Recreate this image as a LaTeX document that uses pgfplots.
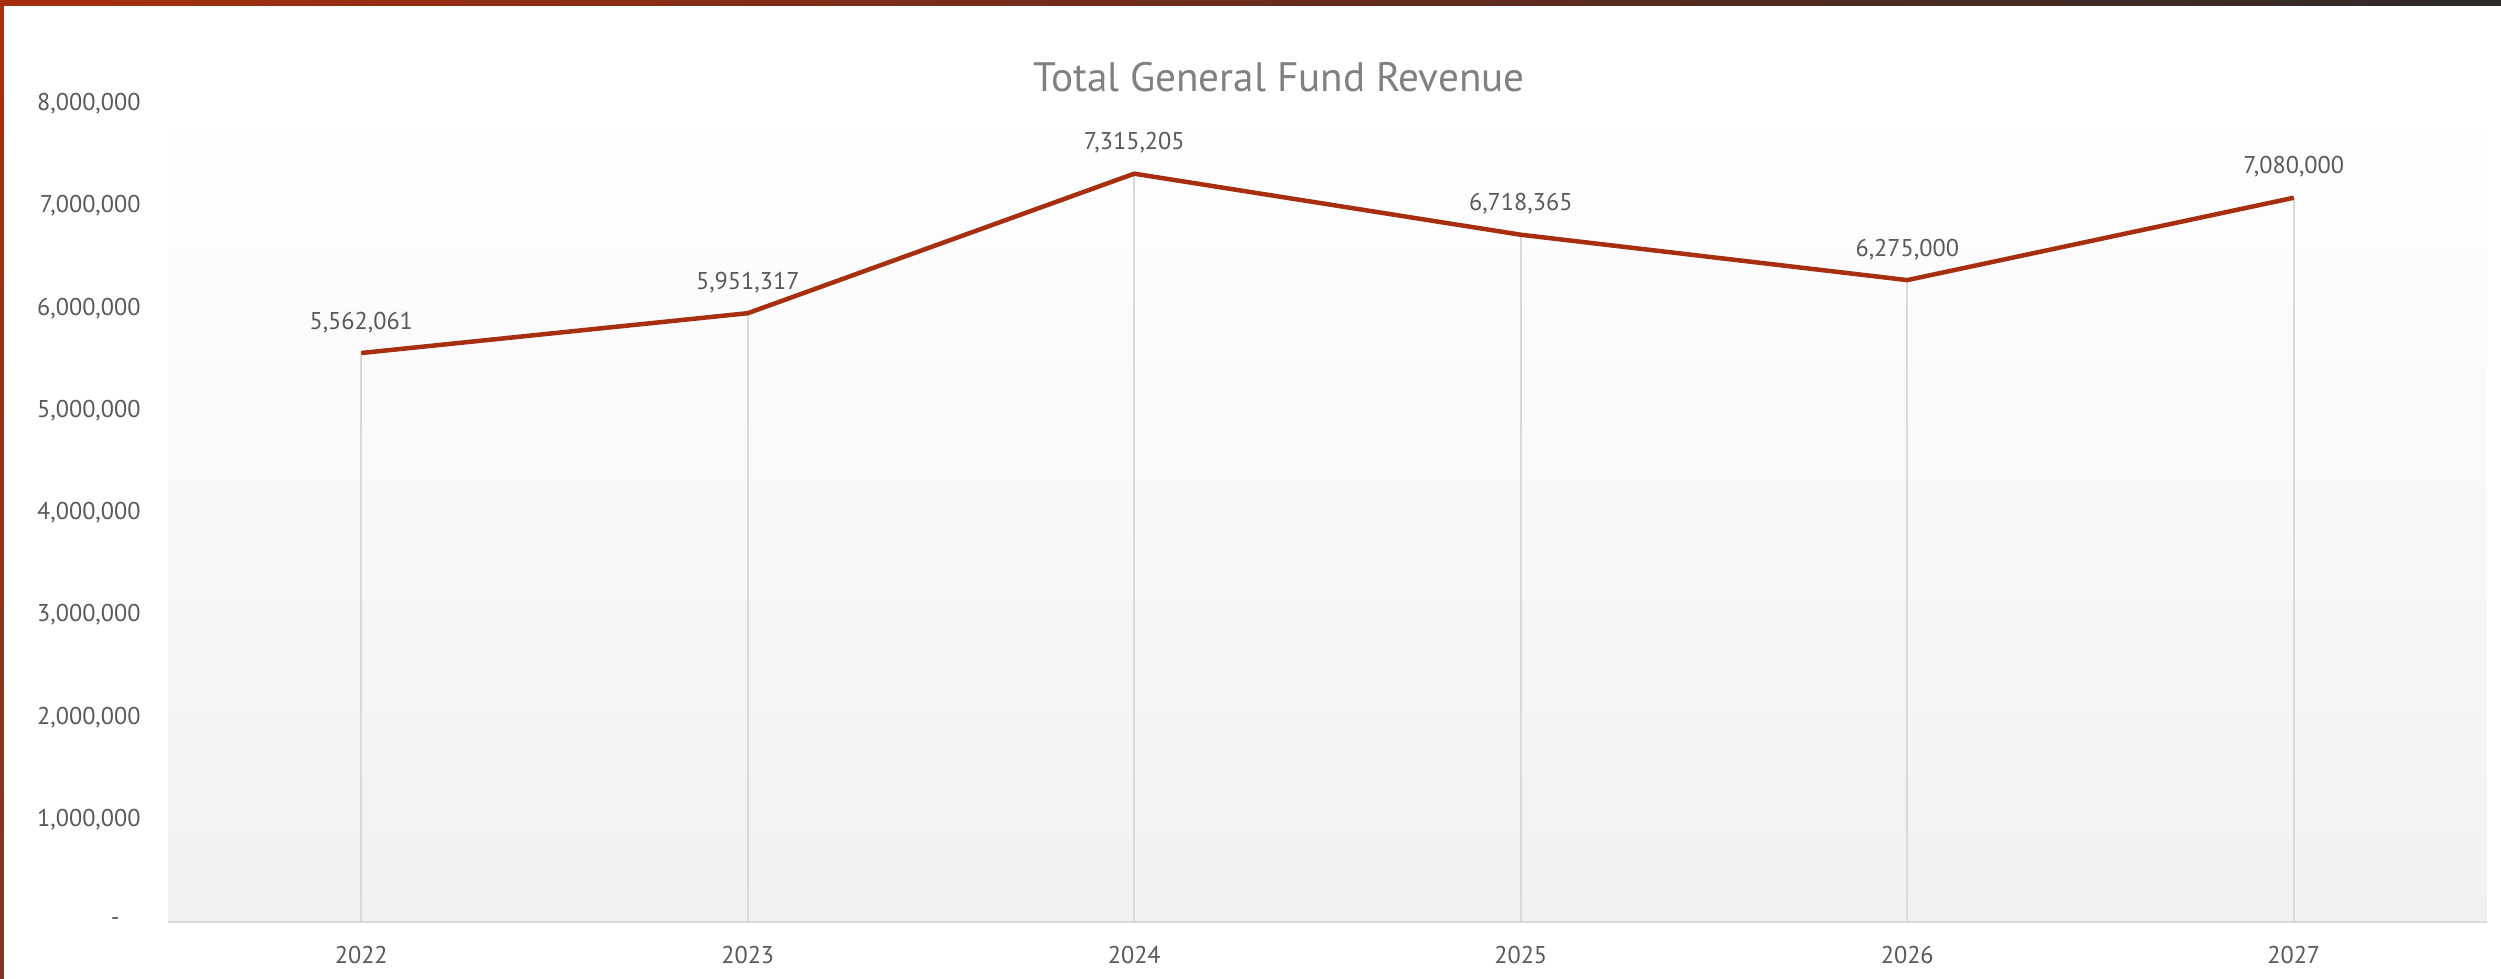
\documentclass[border=0pt]{standalone}
\usepackage{pgfplots}
\usepackage{pgfplotstable}
\pgfplotsset{compat=1.18}
\usepackage{fontspec}
\setmainfont{PT Sans}
\definecolor{linered}{RGB}{168,46,16}
\definecolor{ticktext}{RGB}{89,89,89}
\definecolor{titlegray}{RGB}{128,128,128}
\definecolor{gridgray}{RGB}{217,217,217}
\definecolor{bottomgray}{RGB}{241,241,241}
\definecolor{borderdark}{RGB}{45,42,40}
\definecolor{borderbrown}{RGB}{122,56,36}

\pgfplotstableread{
x y label
0 5562061 5,562,061
1 5951317 5,951,317
2 7315205 7,315,205
3 6718365 6,718,365
4 6275000 6,275,000
5 7080000 7,080,000
}\revdata

\begin{document}
\begin{tikzpicture}
\fill[white] (0,0) rectangle (250.1mm,97.8mm);
\shade[left color=linered, right color=borderdark] (0,97.2mm) rectangle (250.1mm,97.8mm);
\shade[top color=linered, bottom color=borderbrown] (0,0) rectangle (0.4mm,97.8mm);
\begin{axis}[
  at={(16.8mm,5.6mm)}, anchor=south west,
  scale only axis, width=231.9mm, height=81.84mm,
  xmin=-0.5, xmax=5.5, ymin=0, ymax=8000000,
  axis x line*=bottom, axis y line*=left,
  x axis line style={gridgray, line width=0.2mm, -},
  y axis line style={draw=none},
  major tick length=0pt,
  xtick={0,1,2,3,4,5},
  xticklabels={2022,2023,2024,2025,2026,2027},
  ytick={0,1000000,2000000,3000000,4000000,5000000,6000000,7000000,8000000},
  yticklabels={{-\rule{2.1mm}{0pt}},{1,000,000},{2,000,000},{3,000,000},{4,000,000},{5,000,000},{6,000,000},{7,000,000},{8,000,000}},
  scaled y ticks=false,
  ticklabel style={font=\fontsize{6.9}{8}\selectfont, color=ticktext},
  yticklabel style={xshift=-1.5mm},
  xticklabel style={yshift=-1.2mm},
  axis background/.style={shade, top color=white, bottom color=bottomgray},
  clip=false,
]
\addplot[ycomb, gridgray, line width=0.2mm, mark=none] table[x=x,y=y]{\revdata};
\addplot[linered, line width=0.45mm, line join=round, mark=none,
  nodes near coords, point meta=explicit symbolic,
  every node near coord/.append style={font=\fontsize{6.9}{8}\selectfont, color=ticktext, anchor=base, yshift=2.4mm, inner sep=0pt}]
  table[x=x,y=y,meta=label]{\revdata};
\end{axis}
\node[font=\fontsize{11.7}{14}\selectfont, color=titlegray] at (127.9mm,90.1mm) {Total General Fund Revenue};
\end{tikzpicture}
\end{document}
